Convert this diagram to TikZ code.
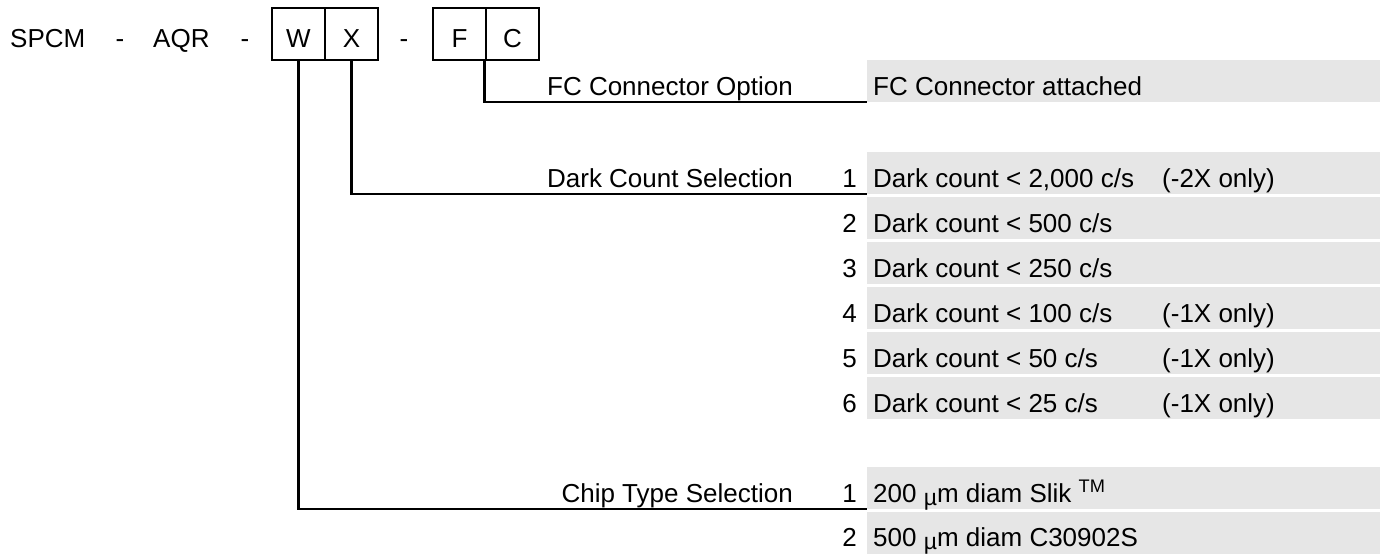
\documentclass[tikz,border=0pt]{standalone}
\usepackage{fontspec}
\setmainfont{Liberation Sans}
\definecolor{rowgray}{RGB}{230,230,230}
\newcommand{\umu}{\raisebox{-3pt}{\fontsize{23}{26}\selectfont µ}}
\tikzset{
  digit/.style={draw, line width=2.7pt, minimum width=53pt, minimum height=52pt, inner sep=0pt, text height=27pt},
  band/.style={fill=rowgray, anchor=south west, minimum width=513pt, minimum height=42pt, inner sep=0pt},
  entry/.style={anchor=base west, inner sep=0pt},
  num/.style={anchor=base east, inner sep=0pt},
  lead/.style={line width=2.7pt},
}
\begin{document}
\begin{tikzpicture}[x=1pt, y=-1pt, font=\fontsize{26}{30}\selectfont]
 \useasboundingbox (0,0) rectangle (1380,554);

 \node[entry] (spcm) at (10,47) {SPCM};
 \node[inner sep=0pt, anchor=base] (dasha) at (120,47) {-};
 \node[entry] (aqr) at (153,47) {AQR};
 \node[inner sep=0pt, anchor=base] (dashb) at (245,47) {-};
 \node[digit] (w) at (298.5,34) {W};
 \node[digit] (x) at (351.5,34) {X};
 \node[inner sep=0pt, anchor=base] (dashc) at (404,47) {-};
 \node[digit] (f) at (459.5,34) {F};
 \node[digit] (c) at (512.5,34) {C};

 \node[band] (fc) at (867,102) {};
 \node[band] (dc1) at (867,194) {};
 \node[band] (dc2) at (867,239) {};
 \node[band] (dc3) at (867,284) {};
 \node[band] (dc4) at (867,329) {};
 \node[band] (dc5) at (867,374) {};
 \node[band] (dc6) at (867,419) {};
 \node[band] (ct1) at (867,509) {};
 \node[band] (ct2) at (867,554) {};

 \draw[lead] (c.south west) |- (fc.south west);
 \draw[lead] (x.south) |- (dc1.south west);
 \draw[lead] (w.south) |- (ct1.south west);

 \node[num] (fcopt) at (793,95) {FC Connector Option};
 \node[num] (dcsel) at (793,187) {Dark Count Selection};
 \node[num] (ctsel) at (793,502) {Chip Type Selection};

 \node[entry] (fctxt) at (873,95) {FC Connector attached};

 \node[num] (dcn1) at (857,187) {1};
 \node[entry] (dct1) at (873,187) {Dark count < 2,000 c/s};
 \node[entry] (dco1) at (1162,187) {(-2X only)};
 \node[num] (dcn2) at (857,232) {2};
 \node[entry] (dct2) at (873,232) {Dark count < 500 c/s};
 \node[num] (dcn3) at (857,277) {3};
 \node[entry] (dct3) at (873,277) {Dark count < 250 c/s};
 \node[num] (dcn4) at (857,322) {4};
 \node[entry] (dct4) at (873,322) {Dark count < 100 c/s};
 \node[entry] (dco4) at (1162,322) {(-1X only)};
 \node[num] (dcn5) at (857,367) {5};
 \node[entry] (dct5) at (873,367) {Dark count < 50 c/s};
 \node[entry] (dco5) at (1162,367) {(-1X only)};
 \node[num] (dcn6) at (857,412) {6};
 \node[entry] (dct6) at (873,412) {Dark count < 25 c/s};
 \node[entry] (dco6) at (1162,412) {(-1X only)};

 \node[num] (ctn1) at (857,502) {1};
 \node[entry] (ctt1) at (873,502) {200 \umu m diam Slik \textsuperscript{TM}};
 \node[num] (ctn2) at (857,546) {2};
 \node[entry] (ctt2) at (873,546) {500 \umu m diam C30902S};
\end{tikzpicture}
\end{document}
